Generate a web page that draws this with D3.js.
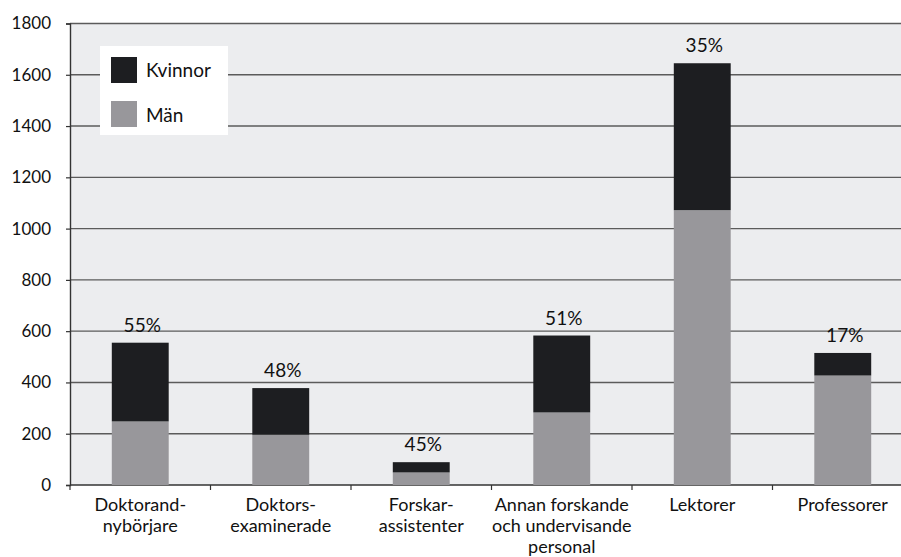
<!DOCTYPE html>
<html><head><meta charset="utf-8">
<script src="https://cdn.jsdelivr.net/npm/d3@7/dist/d3.min.js"></script>
<style>
html,body{margin:0;padding:0;background:#fff;}
svg{display:block;font-family:Lato,"Open Sans",sans-serif;}
</style></head>
<body>
<svg id="chart" width="901" height="557"></svg>
<script>
const categories = [["Doktorand-","nybörjare"],["Doktors-","examinerade"],["Forskar-","assistenter"],["Annan forskande","och undervisande","personal"],["Lektorer"],["Professorer"]];
const man = [248, 196, 49, 283, 1072, 427];
const kvinnor = [307, 182, 40, 300, 573, 88];
const percentLabels = ["55%","48%","45%","51%","35%","17%"];
const yTicks = [0,200,400,600,800,1000,1200,1400,1600,1800];
const legendLabels = ["Kvinnor","Män"];
const colors = {kvinnor:"#1d1e21", man:"#98979b", bg:"#ecedef", grid:"#5b5b5b"};

(function(){
const svg = d3.select("#chart");
const mL = 70, mR = 913, mT = 23.5, mB = 485;
const idx = d3.range(categories.length);
const x = d3.scaleBand().domain(idx).range([mL, mR]).padding(0);
const y = d3.scaleLinear().domain([0, 1800]).range([mB, mT]);
const barW = x.bandwidth() * 0.405;

svg.append("rect").attr("x", mL).attr("y", mT).attr("width", mR - mL).attr("height", mB - mT).attr("fill", colors.bg);

// gridlines
svg.append("g").selectAll("line").data(yTicks.filter(d => d > 0)).join("line")
  .attr("x1", mL).attr("x2", mR).attr("y1", d => y(d)).attr("y2", d => y(d))
  .attr("stroke", colors.grid).attr("stroke-width", 1.4);

// y axis
const yAxis = svg.append("g").attr("transform", `translate(${mL},0)`)
  .call(d3.axisLeft(y).tickValues(yTicks).tickSize(4).tickPadding(15).tickFormat(d3.format("d")));
yAxis.select(".domain").attr("stroke", "#333").attr("stroke-width", 1.4);
yAxis.selectAll(".tick line").attr("stroke", "#333").attr("stroke-width", 1.2);
yAxis.selectAll(".tick text").attr("font-size", 17).attr("fill", "#111").attr("font-family", "Lato");

// x axis baseline & ticks
svg.append("line").attr("x1", mL).attr("x2", mR).attr("y1", mB).attr("y2", mB).attr("stroke", "#333").attr("stroke-width", 1.4);
svg.append("g").selectAll("line").data(idx).join("line")
  .attr("x1", d => x(d)).attr("x2", d => x(d)).attr("y1", mB).attr("y2", mB + 5)
  .attr("stroke", "#333").attr("stroke-width", 1.2);

// bars
const bars = svg.append("g");
bars.selectAll("rect.man").data(idx).join("rect").attr("class", "man")
  .attr("x", d => x(d) + x.bandwidth()/2 - barW/2).attr("width", barW)
  .attr("y", d => y(man[d])).attr("height", d => y(0) - y(man[d]))
  .attr("fill", colors.man);
bars.selectAll("rect.kv").data(idx).join("rect").attr("class", "kv")
  .attr("x", d => x(d) + x.bandwidth()/2 - barW/2).attr("width", barW)
  .attr("y", d => y(man[d] + kvinnor[d])).attr("height", d => y(man[d]) - y(man[d] + kvinnor[d]))
  .attr("fill", colors.kvinnor);

// percent labels
svg.append("g").selectAll("text").data(idx).join("text")
  .attr("x", d => x(d) + x.bandwidth()/2 + 2).attr("y", d => y(man[d] + kvinnor[d]) - 11)
  .attr("text-anchor", "middle").attr("font-size", 19).attr("fill", "#111")
  .text(d => percentLabels[d]);

// category labels (one text per line)
const lines = [];
idx.forEach(d => categories[d].forEach((line, i) => lines.push({d, i, line})));
svg.append("g").selectAll("text").data(lines).join("text")
  .attr("text-anchor", "middle").attr("font-size", 18).attr("fill", "#111")
  .attr("x", e => x(e.d) + x.bandwidth()/2).attr("y", e => 511 + e.i * 21)
  .text(e => e.line);

// legend
const lg = svg.append("g");
lg.append("rect").attr("x", 100).attr("y", 46).attr("width", 128).attr("height", 89).attr("fill", "#fff");
const lgColors = [colors.kvinnor, colors.man];
legendLabels.forEach((lab, i) => {
  lg.append("rect").attr("x", 111).attr("y", 57 + i * 44).attr("width", 26).attr("height", 26).attr("fill", lgColors[i]);
  lg.append("text").attr("x", 146).attr("y", 77 + i * 44.5).attr("font-size", 19).attr("fill", "#111").text(lab);
});
})();
</script>
</body></html>
